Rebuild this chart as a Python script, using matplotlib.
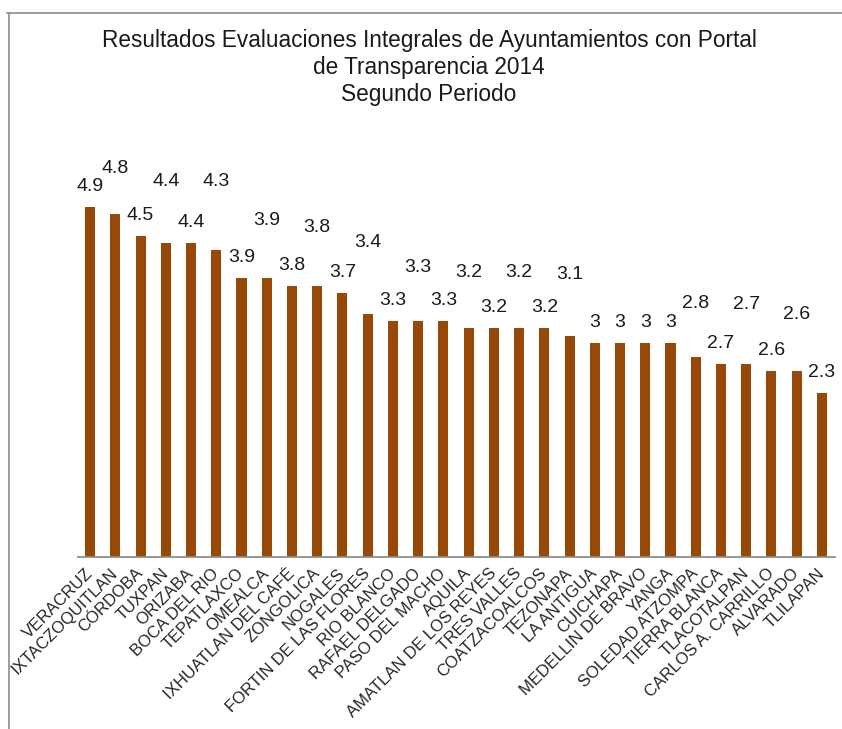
import matplotlib
matplotlib.use("Agg")
import matplotlib.pyplot as plt
from matplotlib.lines import Line2D

plt.rcParams['font.family'] = ['Liberation Sans', 'DejaVu Sans']

municipios = ["VERACRUZ", "IXTACZOQUITLAN", "CÓRDOBA", "TUXPAN", "ORIZABA",
              "BOCA DEL RIO", "TEPATLAXCO", "OMEALCA", "IXHUATLAN DEL CAFÉ",
              "ZONGOLICA", "NOGALES", "FORTIN DE LAS FLORES", "RIO BLANCO",
              "RAFAEL DELGADO", "PASO DEL MACHO", "AQUILA", "AMATLAN DE LOS REYES",
              "TRES VALLES", "COATZACOALCOS", "TEZONAPA", "LA ANTIGUA", "CUICHAPA",
              "MEDELLIN DE BRAVO", "YANGA", "SOLEDAD ATZOMPA", "TIERRA BLANCA",
              "TLACOTALPAN", "CARLOS A. CARRILLO", "ALVARADO", "TLILAPAN"]
calificaciones = [4.9, 4.8, 4.5, 4.4, 4.4, 4.3, 3.9, 3.9, 3.8, 3.8, 3.7, 3.4, 3.3,
                  3.3, 3.3, 3.2, 3.2, 3.2, 3.2, 3.1, 3, 3, 3, 3, 2.8, 2.7, 2.7,
                  2.6, 2.6, 2.3]
etiquetas = ["4.9", "4.8", "4.5", "4.4", "4.4", "4.3", "3.9", "3.9", "3.8", "3.8",
             "3.7", "3.4", "3.3", "3.3", "3.3", "3.2", "3.2", "3.2", "3.2", "3.1",
             "3", "3", "3", "3", "2.8", "2.7", "2.7", "2.6", "2.6", "2.3"]
# extra lift (pixels) of staggered value labels (style only)
label_lift_px = [0, 25, 0, 41, 0, 48, 0, 37, 0, 38, 0, 51, 0, 33, 0, 35, 0, 35, 0, 41,
                 0, 0, 0, 0, 33, 0, 39, 0, 36, 0]

W, H = 842, 729
fig = plt.figure(figsize=(W / 100, H / 100), dpi=100)
fig.patch.set_facecolor('white')

ax = fig.add_axes([77.5 / W, (H - 557) / H, 757 / W, 428.6 / H])
x = list(range(len(municipios)))
ax.bar(x, calificaciones, width=0.4, color='#984807', edgecolor='none', zorder=2)
ax.set_xlim(-0.5, len(municipios) - 0.5)
ax.set_ylim(0, 6)

for s in ['top', 'right', 'left']:
    ax.spines[s].set_visible(False)
ax.spines['bottom'].set_color('#8c8c8c')
ax.spines['bottom'].set_linewidth(1.3)
ax.set_yticks([])
ax.set_xticks(x)
ax.set_xticklabels(municipios, rotation=45, ha='right', va='center',
                   rotation_mode='anchor', fontsize=12, color='#262626')
ax.tick_params(axis='x', length=0, pad=10)

for xi, v, lab, lift in zip(x, calificaciones, etiquetas, label_lift_px):
    ax.annotate(lab, (xi, v), xytext=(0, (12 + lift) * 0.72), textcoords='offset points',
                ha='center', va='bottom', fontsize=14, color='#1a1a1a')

fig.text(429 / W, 1 - 29 / H,
         "Resultados Evaluaciones Integrales de Ayuntamientos con Portal\nde Transparencia 2014\nSegundo Periodo",
         ha='center', va='top', fontsize=16.3, color='#1a1a1a', linespacing=1.22)

# chart border
fig.add_artist(Line2D([7 / W, 1.0], [1 - 12.5 / H, 1 - 12.5 / H], transform=fig.transFigure,
                      color='#8c8c8c', linewidth=1.2))
fig.add_artist(Line2D([9 / W, 9 / W], [0, 1 - 12.5 / H], transform=fig.transFigure,
                      color='#8c8c8c', linewidth=1.2))

fig.savefig('out.png', dpi=100, facecolor='white')
